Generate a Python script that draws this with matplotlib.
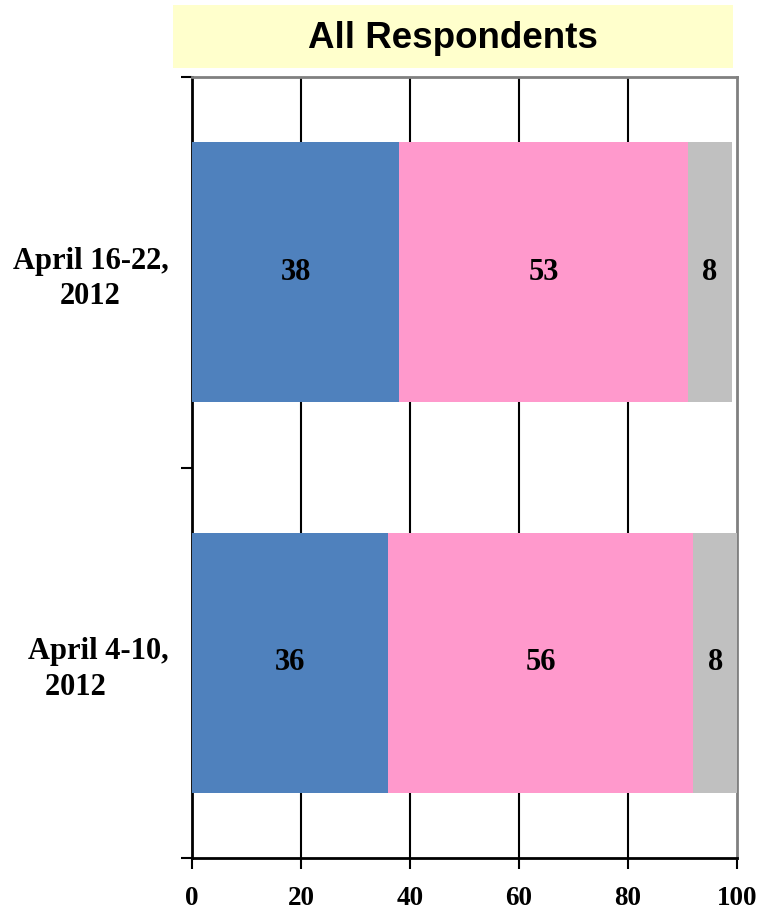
import matplotlib.pyplot as plt
from matplotlib.patches import Rectangle

# survey waves, bottom to top
periods = ["April 4-10,\n2012      ", "April 16-22,\n2012"]
first = [36, 38]
second = [56, 53]
third = [8, 8]
colors = ["#4F81BD", "#FF99CC", "#C0C0C0"]
xticks = [0, 20, 40, 60, 80, 100]

serif = ["Liberation Serif", "DejaVu Serif"]

fig = plt.figure(figsize=(7.6, 9.11), dpi=100)
ax = fig.add_axes([192 / 760, 53 / 911, 545 / 760, 781 / 911])

ypos = [0.5, 1.5]
left = [0, 0]
for vals, c in zip([first, second, third], colors):
    bars = ax.barh(ypos, vals, left=left, height=0.665, color=c, zorder=3)
    for b, v in zip(bars, vals):
        ax.text(b.get_x() + b.get_width() / 2, b.get_y() + b.get_height() / 2,
                str(v), ha="center", va="center", fontsize=22,
                fontweight="bold", family=serif, zorder=4)
    left = [l + v for l, v in zip(left, vals)]

ax.set_xlim(0, 100)
ax.set_ylim(0, 2)
ax.set_xticks(xticks)
ax.set_xticklabels([str(t) for t in xticks], fontsize=19.5, fontweight="bold",
                   family=serif)
ax.set_yticks([0, 1, 2])
ax.set_yticklabels([])
ax.set_yticks(ypos, minor=True)
ax.set_yticklabels(periods, minor=True, fontsize=22, fontweight="bold",
                   family=serif, ha="right", multialignment="center",
                   linespacing=1.3)
ax.tick_params(axis="y", which="minor", length=0, pad=17)
ax.tick_params(axis="y", which="major", length=8, width=1.5, direction="out")
ax.tick_params(axis="x", length=8, width=1.5, direction="out", pad=12)

for x in xticks[1:-1]:
    ax.axvline(x, color="black", lw=1.5, zorder=1)

ax.spines["left"].set_linewidth(2)
ax.spines["bottom"].set_linewidth(2)
ax.spines["top"].set_color("#808080")
ax.spines["right"].set_color("#808080")
ax.spines["top"].set_linewidth(2)
ax.spines["right"].set_linewidth(2)

# title box
fig.patches.append(Rectangle((173 / 760, 1 - 68 / 911), 560 / 760, 63 / 911,
                             transform=fig.transFigure, facecolor="#FFFFCC",
                             edgecolor="none"))
fig.text(453 / 760, 1 - 38 / 911, "All Respondents", ha="center", va="center",
         fontsize=26.5, fontweight="bold", family=["Liberation Sans", "DejaVu Sans"])

fig.savefig("out.png", dpi=100)
